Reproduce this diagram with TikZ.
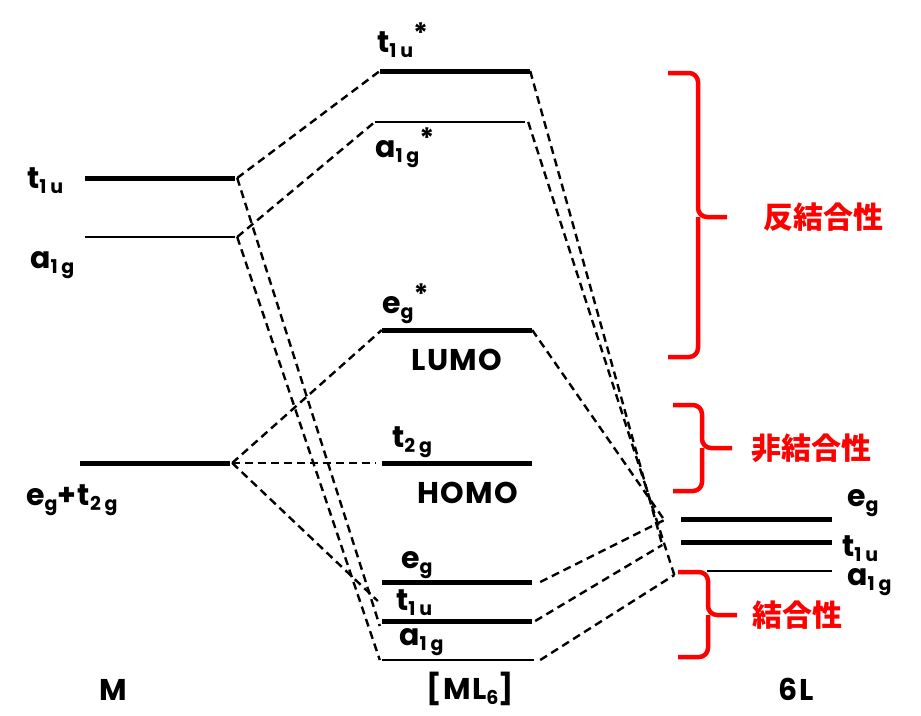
\documentclass[tikz,border=0pt]{standalone}
\usepackage{fontspec}
\setmainfont{Poppins}
\newfontfamily\lat{Poppins}[LetterSpace=5]
\newfontfamily\latsub{Poppins}[LetterSpace=20]
\newfontfamily\jp{Noto Sans CJK JP}
\newcommand{\sbs}[1]{\raisebox{-0.3ex}{\latsub\bfseries\fontsize{19}{19}\selectfont #1}}
\newcommand{\sps}{\raisebox{0.5ex}{\fontsize{28}{28}\selectfont *}}

\begin{document}
\begin{tikzpicture}[x=1pt,y=-1pt,
    lvl/.style={fill,inner sep=0pt,minimum width=150pt,minimum height=5pt},
    thinlvl/.style={lvl,minimum height=2.6pt},
    link/.style={dash pattern=on 8pt off 5pt,line width=2.4pt},
    lab/.style={font=\lat\bfseries\fontsize{30}{30}\selectfont,inner sep=0pt,anchor=base west},
    side/.style={red,font=\jp\bfseries\fontsize{30}{30}\selectfont,inner sep=0pt},
    bracered/.style={red,line width=4.5pt,rounded corners=9pt}]
  \useasboundingbox (0,0) rectangle (921,715);

  % metal M
  \node[lvl] (m-t1u) at (160,178) {};
  \node[thinlvl] (m-a1g) at (160,237) {};
  \node[lvl] (m-d) at (155,463) {};
  \node[lab] at (27,188) {t\sbs{1u}};
  \node[lab] at (30,268) {a\sbs{1g}};
  \node[lab] at (26,505) {e\sbs{g}+t\sbs{2g}};
  \node[lab,anchor=base] at (113,700) {M};

  % complex [ML6]
  \node[lvl] (c-t1ua) at (455,71) {};
  \node[thinlvl] (c-a1ga) at (450,122) {};
  \node[lvl] (c-ega) at (457,330) {};
  \node[lvl] (c-t2g) at (457,463) {};
  \node[lvl] (c-eg) at (457,582) {};
  \node[lvl] (c-t1u) at (457,621) {};
  \node[thinlvl,minimum width=152pt] (c-a1g) at (458,660) {};
  \node[lab] at (377,52) {t\sbs{1u}\sps};
  \node[lab] at (375,157) {a\sbs{1g}\sps};
  \node[lab] at (382,313) {e\sbs{g}\sps};
  \node[lab,anchor=base] at (457,370) {LUMO};
  \node[lab] at (392,447) {t\sbs{2g}};
  \node[lab,anchor=base] at (468,503) {HOMO};
  \node[lab] at (401,568) {e\sbs{g}};
  \node[lab] at (396,610) {t\sbs{1u}};
  \node[lab] at (399,645) {a\sbs{1g}};
  \node[lab,anchor=base] at (470,699) {[ML\sbs{6}]};

  % ligands 6L
  \node[lvl,minimum width=151pt] (l-eg) at (756,519) {};
  \node[lvl,minimum width=151pt] (l-t1u) at (756,542) {};
  \node[thinlvl,minimum width=125pt] (l-a1g) at (769,571) {};
  \node[lab] at (847,506) {e\sbs{g}};
  \node[lab] at (842,556) {t\sbs{1u}};
  \node[lab] at (847,585) {a\sbs{1g}};
  \node[lab,anchor=base] at (796,700) {6L};

  % correlation lines
  \draw[link] ([xshift=2pt]m-t1u.east) -- (c-t1ua.west);
  \draw[link] ([xshift=2pt]m-t1u.east) -- ([xshift=-2pt,yshift=-5pt]c-t1u.west);
  \draw[link] ([xshift=2pt]m-a1g.east) -- (c-a1ga.west);
  \draw[link] ([xshift=2pt]m-a1g.east) -- ([xshift=-2pt]c-a1g.west);
  \draw[link] ([xshift=2pt]m-d.east) -- (c-ega.west);
  \draw[link] ([xshift=2pt]m-d.east) -- ([xshift=-6pt]c-t2g.west);
  \draw[link] ([xshift=2pt]m-d.east) -- ([xshift=-4pt,yshift=-19pt]c-eg.west);
  \draw[link] (c-t1ua.east) -- ([xshift=-18pt,yshift=-3pt]l-t1u.west);
  \draw[link] ([xshift=3pt]c-a1ga.east) -- ([xshift=-32pt,yshift=-4pt]l-a1g.west);
  \draw[link] (c-ega.east) -- ([xshift=-16pt,yshift=-1pt]l-eg.west);
  \draw[link] ([xshift=8pt]c-eg.east) -- ([xshift=-16pt,yshift=-1pt]l-eg.west);
  \draw[link] ([xshift=3pt]c-t1u.east) -- ([xshift=-18pt,yshift=-3pt]l-t1u.west);
  \draw[link] ([xshift=6pt]c-a1g.east) -- ([xshift=-32pt,yshift=-4pt]l-a1g.west);

  % braces
  \node[side] (anti) at (823,217) {反結合性};
  \node[side] (non) at (811,448) {非結合性};
  \node[side] (bond) at (797,615) {結合性};
  \draw[bracered] (668,73) -| (698,217) -- (727,217);
  \draw[bracered] (668,357) -| (698,217);
  \draw[bracered] (673,405) -| (702,448) -- (732,448);
  \draw[bracered] (673,491) -| (702,448);
  \draw[bracered] (678,572) -| (708,615) -- (737,615);
  \draw[bracered] (678,657) -| (708,615);
\end{tikzpicture}
\end{document}
